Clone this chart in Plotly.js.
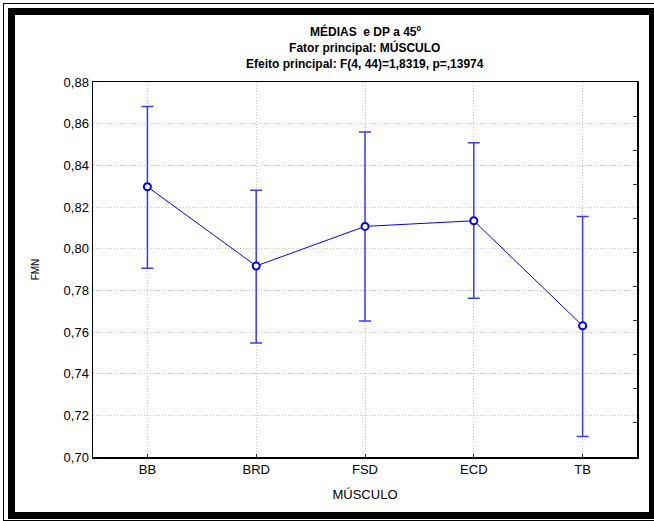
<!DOCTYPE html>
<html>
<head>
<meta charset="utf-8">
<script src="https://cdn.plot.ly/plotly-3.0.1.min.js"></script>
<style>
html,body{margin:0;padding:0;width:654px;height:521px;overflow:hidden;background:#fff;}
#chart{position:absolute;left:0;top:0;width:654px;height:521px;}
.thin{position:absolute;left:3px;top:3px;width:660px;height:518px;box-sizing:border-box;border:1px solid #000;pointer-events:none;}
.thick{position:absolute;left:8px;top:8px;width:648px;height:511px;box-sizing:border-box;border:7px solid #000;pointer-events:none;}
</style>
</head>
<body>
<div id="chart"></div>
<div class="thin"></div>
<div class="thick"></div>
<script>
const categories = ["BB", "BRD", "FSD", "ECD", "TB"];
const means = [0.8297, 0.7917, 0.8107, 0.8134, 0.7630];
const upper = [0.8683, 0.8280, 0.8560, 0.8509, 0.8154];
const lower = [0.7906, 0.7547, 0.7653, 0.7762, 0.7098];
const yTicks = [0.70, 0.72, 0.74, 0.76, 0.78, 0.80, 0.82, 0.84, 0.86, 0.88];

const errPlus = means.map((m, i) => upper[i] - m);
const errMinus = means.map((m, i) => m - lower[i]);

const font = "Liberation Sans, Arial, sans-serif";

const traces = [
  {
    x: categories,
    y: means,
    type: "scatter",
    mode: "lines+markers",
    line: {color: "#0000ff", width: 1},
    marker: {symbol: "circle", size: 7, color: "#ffffff", line: {color: "#0000ff", width: 2}},
    error_y: {type: "data", symmetric: false, array: errPlus, arrayminus: errMinus,
              color: "#3a3aff", thickness: 1.5, width: 6},
    hoverinfo: "skip",
    cliponaxis: false
  },
  {x: [], y: [], yaxis: "y2", type: "scatter", mode: "markers", showlegend: false}
];

const layout = {
  width: 654,
  height: 521,
  margin: {l: 93, r: 17, t: 82, b: 64},
  paper_bgcolor: "#ffffff",
  plot_bgcolor: "#ffffff",
  separators: ",.",
  showlegend: false,
  font: {family: font, size: 13, color: "#000"},
  xaxis: {
    type: "category",
    range: [-0.5, 4.5],
    tickvals: categories,
    ticks: "inside", ticklen: 3, tickcolor: "#333",
    showgrid: true, gridcolor: "#c4c4c4", griddash: "1px,2px", gridwidth: 1,
    showline: true, linecolor: "#000", linewidth: 1.5, mirror: true,
    zeroline: false,
    tickfont: {family: font, size: 13},
    title: {text: "MÚSCULO", font: {family: font, size: 13}, standoff: 14}
  },
  yaxis: {
    range: [0.70, 0.88],
    tickvals: yTicks,
    tickformat: ".2f",
    ticks: "",
    showgrid: true, gridcolor: "#c4c4c4", griddash: "1px,2px", gridwidth: 1,
    showline: true, linecolor: "#000", linewidth: 1.5, mirror: true,
    zeroline: false,
    tickfont: {family: font, size: 13},
    title: {text: "FMN", font: {family: font, size: 10}, standoff: 22}
  },
  yaxis2: {
    overlaying: "y",
    side: "right",
    range: [0, 11],
    dtick: 1,
    ticks: "inside", ticklen: 4, tickcolor: "#333",
    showticklabels: false,
    showgrid: false, zeroline: false, showline: false
  },
  annotations: [
    {text: "<b>MÉDIAS  e DP a 45º</b>", xref: "paper", yref: "paper", x: 0.5, y: 1, yshift: 51,
     xanchor: "center", yanchor: "middle", showarrow: false, font: {family: font, size: 12}},
    {text: "<b>Fator principal: MÚSCULO</b><br><b>Efeito principal: F(4, 44)=1,8319, p=,13974</b>",
     xref: "paper", yref: "paper", x: 0.5, y: 1, yshift: 27, align: "center",
     xanchor: "center", yanchor: "middle", showarrow: false, font: {family: font, size: 12}}
  ]
};

Plotly.newPlot("chart", traces, layout, {displayModeBar: false, staticPlot: true});
</script>
</body>
</html>
